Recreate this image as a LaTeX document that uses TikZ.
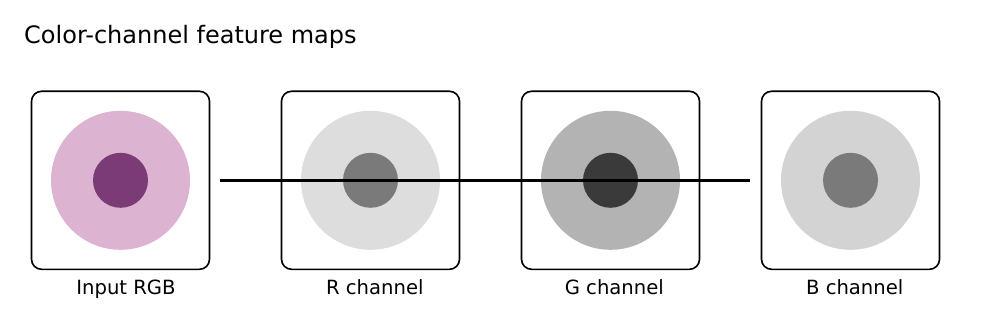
\documentclass[tikz,border=0pt]{standalone}
\usepackage{fontspec}
\setmainfont{DejaVu Sans}
\definecolor{pinkout}{HTML}{DDB3D2}
\definecolor{pinkin}{HTML}{7A3B76}
\definecolor{rout}{HTML}{DDDDDD}
\definecolor{rin}{HTML}{7A7A7A}
\definecolor{gout}{HTML}{B3B3B3}
\definecolor{gin}{HTML}{3A3A3A}
\definecolor{bout}{HTML}{D3D3D3}
\definecolor{bin}{HTML}{7A7A7A}
\begin{document}
\begin{tikzpicture}[x=1pt,y=-1pt,
  framebox/.style={draw=black, line width=1.6pt, rounded corners=10pt, minimum size=178pt, inner sep=0pt},
  outerdisc/.style={circle, draw=none, minimum size=139pt, inner sep=0pt},
  innerdisc/.style={circle, draw=none, minimum size=55pt, inner sep=0pt},
  lbl/.style={anchor=base, inner sep=0pt, font=\fontsize{19.6pt}{22pt}\selectfont},
  conn/.style={draw=black, line width=2.6pt}]
\useasboundingbox (0,0) rectangle (1000,320);
\node[anchor=base west, inner sep=0pt, font=\fontsize{24pt}{27pt}\selectfont] (title) at (24,43.3) {Color-channel feature maps};
% panels
\node[outerdisc, fill=pinkout] (o1) at (120.5,180.3) {};
\node[innerdisc, fill=pinkin] (i1) at (120.5,180.3) {};
\node[framebox] (b1) at (120.5,180.3) {};
\node[outerdisc, fill=rout] (o2) at (370.5,180.3) {};
\node[innerdisc, fill=rin] (i2) at (370.5,180.3) {};
\node[framebox] (b2) at (370.5,180.3) {};
\node[outerdisc, fill=gout] (o3) at (610.5,180.3) {};
\node[innerdisc, fill=gin] (i3) at (610.5,180.3) {};
\node[framebox] (b3) at (610.5,180.3) {};
\node[outerdisc, fill=bout] (o4) at (850.5,180.3) {};
\node[innerdisc, fill=bin] (i4) at (850.5,180.3) {};
\node[framebox] (b4) at (850.5,180.3) {};
% labels
\node[lbl] (l1) at (126,294) {Input RGB};
\node[lbl] (l2) at (374.8,294) {R channel};
\node[lbl] (l3) at (614.3,294) {G channel};
\node[lbl] (l4) at (854.7,294) {B channel};
% connector
\draw[conn] ([xshift=9.5pt]b1.east) -- ([xshift=-10.5pt]b4.west);
\end{tikzpicture}
\end{document}
